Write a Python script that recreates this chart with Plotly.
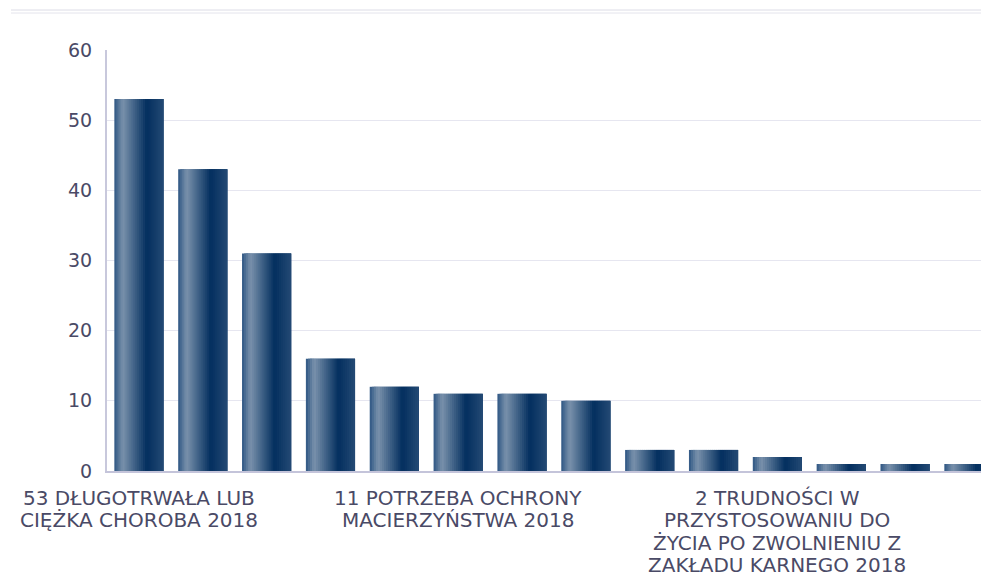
import plotly.graph_objects as go

# ---- data ----
categories = list(range(14))
values = [53, 43, 31, 16, 12, 11, 11, 10, 3, 3, 2, 1, 1, 1]
tick_positions = [0, 5, 10]
tick_labels = [
    "53 DŁUGOTRWAŁA LUB<br>CIĘŻKA CHOROBA 2018",
    "11 POTRZEBA OCHRONY<br>MACIERZYŃSTWA 2018",
    "2 TRUDNOŚCI W<br>PRZYSTOSOWANIU DO<br>ŻYCIA PO ZWOLNIENIU Z<br>ZAKŁADU KARNEGO 2018",
]
y_ticks = [0, 10, 20, 30, 40, 50, 60]

# ---- cylinder-like horizontal gradient profile ----
stops = [(0.0, (46, 86, 131)), (0.17, (122, 146, 172)), (0.66, (3, 47, 95)), (1.0, (36, 74, 116))]


def grad(t):
    for (t0, c0), (t1, c1) in zip(stops[:-1], stops[1:]):
        if t0 <= t <= t1:
            f = (t - t0) / (t1 - t0)
            return "rgb(%d,%d,%d)" % tuple(round(a + (b - a) * f) for a, b in zip(c0, c1))
    return "rgb(%d,%d,%d)" % stops[-1][1]


BAR_W = 0.77
N = 24
sw = BAR_W / N

fig = go.Figure()
for i in range(N):
    t = (i + 0.5) / N
    fig.add_trace(go.Bar(
        x=categories, y=values,
        width=min(sw * 3, BAR_W - i * sw),
        offset=-BAR_W / 2 + i * sw,
        marker=dict(color=grad(t), line=dict(width=0)),
        hoverinfo="skip",
        showlegend=False,
    ))

font_family = "DejaVu Sans, sans-serif"
text_color = "#4a4a66"

# category labels below the axis, one annotation per text line (tight line spacing)
annotations = []
for pos, label in zip(tick_positions, tick_labels):
    for k, line in enumerate(label.split("<br>")):
        annotations.append(dict(
            x=pos, xref="x", y=0, yref="paper",
            text=line, showarrow=False,
            xanchor="center", yanchor="middle",
            yshift=-27 - 22.3 * k,
            font=dict(family=font_family, size=20, color=text_color),
        ))

L, T, PW, PH = 99, 42, 890, 421

fig.update_layout(
    width=989, height=573,
    margin=dict(l=L, r=0, t=T, b=573 - T - PH),
    barmode="overlay",
    plot_bgcolor="white", paper_bgcolor="white",
    font=dict(family=font_family, color=text_color, size=19),
    xaxis=dict(
        range=[-0.5, 13.44], automargin=False,
        showticklabels=False,
        showgrid=False, zeroline=False,
        showline=True, linecolor="#c4c4da", linewidth=2,
        ticks="",
        fixedrange=True,
    ),
    yaxis=dict(
        range=[0, 60], tickvals=y_ticks, automargin=False,
        showgrid=True, gridcolor="#e6e6f0", gridwidth=1,
        zeroline=False,
        showline=True, linecolor="#c8c8dc", linewidth=2,
        ticks="", tickfont=dict(size=19, color=text_color),
        ticklabelstandoff=9,
        fixedrange=True,
    ),
    annotations=annotations,
    shapes=[
        dict(type="line", xref="paper", yref="paper",
             x0=(3 - L) / PW, x1=1.0, y0=1 + (T - 2) / PH, y1=1 + (T - 2) / PH,
             line=dict(color="#dcdce6", width=1)),
        dict(type="line", xref="paper", yref="paper",
             x0=(3 - L) / PW, x1=1.0, y0=1 + (T - 5) / PH, y1=1 + (T - 5) / PH,
             line=dict(color="#e4e4ec", width=1)),
    ],
)

fig.write_html("out.html")
